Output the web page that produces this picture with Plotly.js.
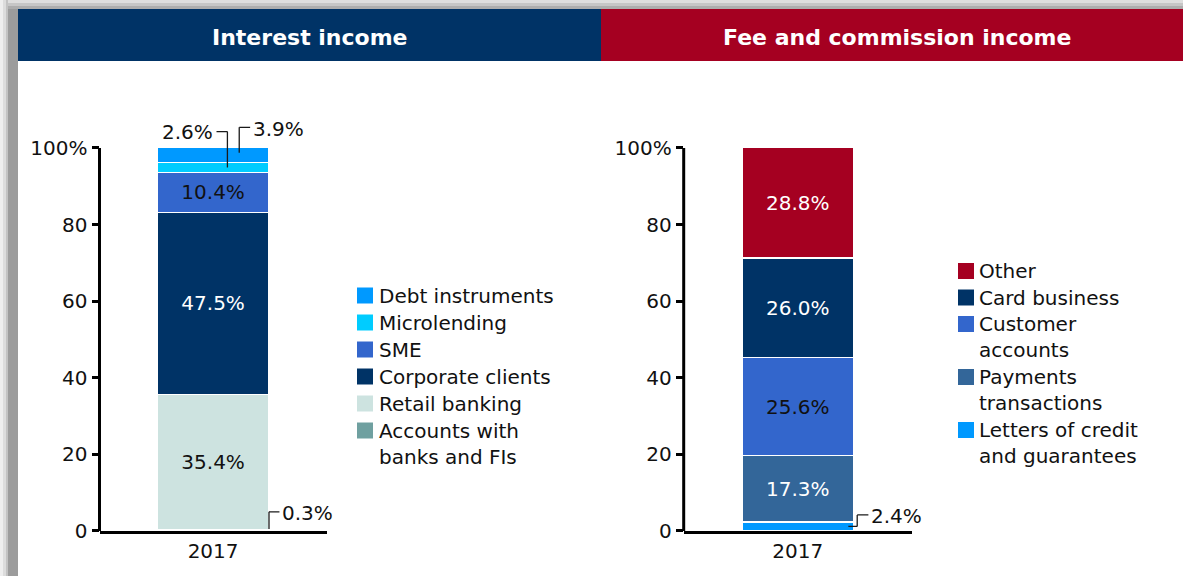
<!DOCTYPE html>
<html>
<head>
<meta charset="utf-8">
<script src="https://cdn.plot.ly/plotly-3.0.1.min.js"></script>
<style>html,body{margin:0;padding:0;background:#fff;}#chart{width:1183px;height:576px;}</style>
</head>
<body>
<div id="chart"></div>
<script>
// ---------- DATA ----------
const categories = ['2017'];

// Interest income (stack order bottom -> top)
const interestNames = ['Accounts with<br>banks and FIs', 'Retail banking', 'Corporate clients', 'SME', 'Microlending', 'Debt instruments'];
const interestValues = [0.3, 35.4, 47.5, 10.4, 2.6, 3.9];
const interestColors = ['#6fa0a0', '#cde3e0', '#003366', '#3366cc', '#00ccff', '#0099ff'];
const interestTextColors = ['#111111', '#111111', '#ffffff', '#111111', '#111111', '#111111'];

// Fee and commission income (stack order bottom -> top)
const feeNames = ['Letters of credit<br>and guarantees', 'Payments<br>transactions', 'Customer<br>accounts', 'Card business', 'Other'];
const feeValues = [2.4, 17.3, 25.6, 26.0, 28.8];
const feeColors = ['#0099ff', '#336699', '#3366cc', '#003366', '#a50021'];
const feeTextColors = ['#ffffff', '#ffffff', '#111111', '#ffffff', '#ffffff'];

const yTickVals = [0, 20, 40, 60, 80, 100];
const yTickText = ['0', '20', '40', '60', '80', '100%'];

const panelTitles = ['Interest income', 'Fee and commission income'];

// ---------- STYLE ----------
const FONT = 'DejaVu Sans, Verdana, sans-serif';
const W = 1183, H = 576;
const px = v => v / W;          // pixel -> paper x
const py = v => 1 - v / H;      // pixel -> paper y
const fmt = v => v.toFixed(1) + '%';

const traces = [];
function addStack(names, values, colors, textColors, xa, ya) {
  names.forEach((n, i) => {
    traces.push({
      type: 'bar', name: n, x: categories, y: [values[i]],
      xaxis: xa, yaxis: ya,
      marker: {color: colors[i], line: {color: '#ffffff', width: 1.5}},
      text: [values[i] >= 5 ? fmt(values[i]) : ''],
      textposition: 'inside', insidetextanchor: 'middle', constraintext: 'none',
      textangle: 0,
      insidetextfont: {family: FONT, size: 20, color: textColors[i]},
      hoverinfo: 'skip', showlegend: false
    });
  });
}
addStack(interestNames, interestValues, interestColors, interestTextColors, 'x', 'y');
addStack(feeNames, feeValues, feeColors, feeTextColors, 'x2', 'y2');

function cum(values) { const b = []; let s = 0; values.forEach(v => { b.push(s); s += v; }); return b; }
const iBase = cum(interestValues), fBase = cum(feeValues);
const mid = (b, v, i) => b[i] + v[i] / 2;

const shapes = [];
const annotations = [];

// background shadow + headers
const bg = (x0, y0, x1, y1, c) => shapes.push({type: 'rect', xref: 'paper', yref: 'paper', layer: 'below',
  x0: px(x0), x1: px(x1), y0: py(y1), y1: py(y0), fillcolor: c, line: {width: 0}});
bg(0, 0, W, 3, '#dedede'); bg(0, 3, W, 6, '#c6c6c6'); bg(0, 6, W, 9, '#adadad');
bg(0, 0, 3, H, '#eeeeee'); bg(3, 0, 6, H, '#dcdcdc'); bg(6, 0, 8, H, '#c2c2c2'); bg(8, 9, 18, H, '#9c9c9c');
bg(18, 9, 601, 61, '#003366');
bg(601, 9, W, 61, '#a50021');
annotations.push({xref: 'paper', yref: 'paper', x: px(309.5), y: py(37), text: '<b>' + panelTitles[0] + '</b>',
  showarrow: false, xanchor: 'center', yanchor: 'middle', font: {family: FONT, size: 22, color: '#ffffff'}});
annotations.push({xref: 'paper', yref: 'paper', x: px(897), y: py(37), text: '<b>' + panelTitles[1] + '</b>',
  showarrow: false, xanchor: 'center', yanchor: 'middle', font: {family: FONT, size: 22, color: '#ffffff'}});

// y axis lines (0 -> 100 only)
['x', 'x2'].forEach((xa, k) => {
  shapes.push({type: 'line', xref: xa + ' domain', yref: k ? 'y2' : 'y', x0: 0, x1: 0, y0: 0, y1: 100,
    line: {color: '#000', width: 3}, layer: 'above'});
});

// leader lines for small segments
function leader(xa, ya, pts, label, tx, ty, anchor) {
  for (let i = 0; i < pts.length - 1; i++) {
    shapes.push({type: 'line', xref: xa, yref: ya, x0: pts[i][0], y0: pts[i][1], x1: pts[i + 1][0], y1: pts[i + 1][1],
      line: {color: '#1a1a1a', width: 1.3}, layer: 'above'});
  }
  annotations.push({xref: xa, yref: ya, x: tx, y: ty, text: label, showarrow: false, xanchor: anchor, yanchor: 'middle',
    font: {family: FONT, size: 20, color: '#111'}});
}
// Microlending (index 4)
leader('x', 'y', [[0.063, mid(iBase, interestValues, 4)], [0.063, 104.3], [0.015, 104.3]], fmt(interestValues[4]), 0.008, 104.1, 'right');
// Debt instruments (index 5)
leader('x', 'y', [[0.115, mid(iBase, interestValues, 5) + 0.6], [0.115, 105.4], [0.163, 105.4]], fmt(interestValues[5]), 0.166, 104.9, 'left');
// Accounts with banks (index 0)
leader('x', 'y', [[0.246, interestValues[0] + 0.2], [0.246, 5.0], [0.292, 5.0]], fmt(interestValues[0]), 0.296, 4.7, 'left');
// Letters of credit (index 0)
leader('x2', 'y2', [[0.222, mid(fBase, feeValues, 0)], [0.261, mid(fBase, feeValues, 0)], [0.261, 4.2], [0.31, 4.2]], fmt(feeValues[0]), 0.313, 3.9, 'left');

// custom legends (top -> bottom = reverse stack order)
function legend(names, colors, sqX, txtX, startY, step) {
  let y = startY;
  for (let i = names.length - 1; i >= 0; i--) {
    shapes.push({type: 'rect', xref: 'paper', yref: 'paper', x0: px(sqX), x1: px(sqX + 16),
      y0: py(y + 8), y1: py(y - 8), fillcolor: colors[i], line: {width: 0}});
    annotations.push({xref: 'paper', yref: 'paper', x: px(txtX), y: py(y - 14), text: names[i], showarrow: false,
      xanchor: 'left', yanchor: 'top', align: 'left', font: {family: FONT, size: 20, color: '#111'}});
    const lines = names[i].split('<br>').length;
    y += step * lines;
  }
}
legend(interestNames, interestColors, 357, 377, 295.5, 27);
legend(feeNames, feeColors, 958, 977, 271, 26.5);

const yDom = [0.078125, 0.82285];
const yBase = {
  range: [0, 112], domain: yDom, showline: false, showgrid: false, zeroline: false,
  tickvals: yTickVals, ticktext: yTickText, ticks: 'outside', ticklen: 7, tickwidth: 3, tickcolor: '#000',
  tickfont: {family: FONT, size: 20, color: '#111'}, fixedrange: true
};
const xBase = {
  type: 'category', range: [-0.5, 0.5], showline: true, linewidth: 3, linecolor: '#000', ticks: '',
  showgrid: false, zeroline: false, tickfont: {family: FONT, size: 20, color: '#111'}, fixedrange: true
};

const layout = {
  width: W, height: H, margin: {l: 0, r: 0, t: 0, b: 0}, autosize: false,
  paper_bgcolor: '#ffffff', plot_bgcolor: 'rgba(0,0,0,0)',
  barmode: 'stack', bargap: 0.51, showlegend: false,
  font: {family: FONT, size: 20, color: '#111'},
  xaxis: Object.assign({}, xBase, {domain: [0.08411, 0.27616], anchor: 'y'}),
  yaxis: Object.assign({}, yBase, {anchor: 'x'}),
  xaxis2: Object.assign({}, xBase, {domain: [0.57794, 0.77067], anchor: 'y2'}),
  yaxis2: Object.assign({}, yBase, {anchor: 'x2'}),
  shapes: shapes, annotations: annotations
};

Plotly.newPlot('chart', traces, layout, {displayModeBar: false, staticPlot: true});
</script>
</body>
</html>
